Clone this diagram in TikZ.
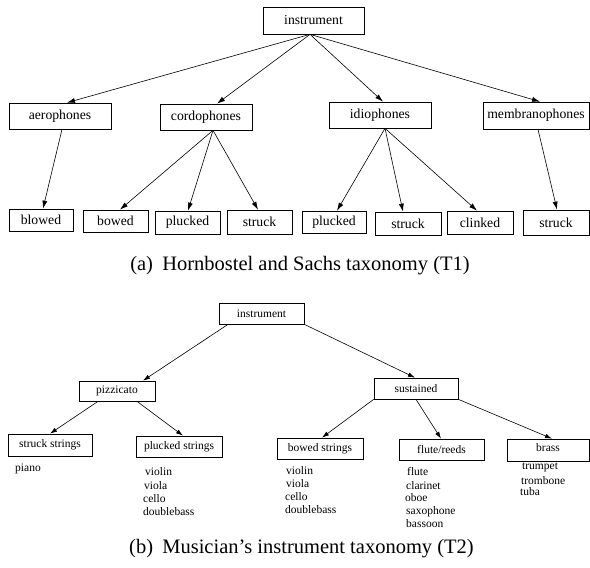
\documentclass[tikz,border=0pt]{standalone}
\usepackage{fontspec}
\setmainfont{Liberation Serif}
\usetikzlibrary{arrows.meta}
\begin{document}
\begin{tikzpicture}[x=1pt,y=-1pt,
  topbox/.style={draw,line width=0.7pt,inner sep=0pt,font=\fontsize{13.7}{15}\selectfont},
  botbox/.style={draw,line width=0.7pt,inner sep=0pt,font=\fontsize{11.5}{13}\selectfont},
  item/.style={anchor=west,inner sep=0pt,font=\fontsize{11.5}{13}\selectfont},
  captxt/.style={inner sep=0pt,font=\fontsize{20.5}{23}\selectfont},
  arr/.style={-{Latex[length=8pt,width=5pt]},line width=0.6pt},
  arrs/.style={-{Latex[length=7pt,width=4.5pt]},line width=0.6pt}]
\useasboundingbox (0,0) rectangle (590,568);
% ---- (a) ----
\node[topbox,minimum width=101pt,minimum height=27pt] (inst) at (313.5,20.5) {instrument};
\node[topbox,minimum width=102pt,minimum height=26pt] (aero) at (60,116) {aerophones};
\node[topbox,minimum width=92pt,minimum height=26pt] (cord) at (206,117) {cordophones};
\node[topbox,minimum width=102pt,minimum height=26pt] (idio) at (380,115) {idiophones};
\node[topbox,minimum width=106pt,minimum height=27pt] (memb) at (536,115.5) {membranophones};
\node[topbox,minimum width=64pt,minimum height=22pt] (blowed) at (41,220) {blowed};
\node[topbox,minimum width=65pt,minimum height=22pt] (bowed) at (115.5,221) {bowed};
\node[topbox,minimum width=65pt,minimum height=23pt] (plc) at (187.5,222.5) {plucked};
\node[topbox,minimum width=65pt,minimum height=24pt] (stc) at (259.5,222) {struck};
\node[topbox,minimum width=64pt,minimum height=22pt] (pli) at (334,222) {plucked};
\node[topbox,minimum width=66pt,minimum height=23pt] (sti) at (408,223.5) {struck};
\node[topbox,minimum width=66pt,minimum height=23pt] (clk) at (480,222.5) {clinked};
\node[topbox,minimum width=66pt,minimum height=25pt] (stm) at (556,222.5) {struck};
\draw[arr] ([xshift=-3.5pt]inst.south) -- ([xshift=7pt]aero.north);
\draw[arr] ([xshift=-3.5pt]inst.south) -- ([xshift=11pt]cord.north);
\draw[arr] ([xshift=-3.5pt]inst.south) -- ([xshift=3pt]idio.north);
\draw[arr] ([xshift=-3.5pt]inst.south) -- ([xshift=4pt]memb.north);
\draw[arr] ([xshift=2pt]aero.south) -- ([xshift=2pt]blowed.north);
\draw[arr] ([xshift=7pt]cord.south) -- ([xshift=4.5pt]bowed.north);
\draw[arr] ([xshift=7pt]cord.south) -- ([xshift=0.5pt]plc.north);
\draw[arr] ([xshift=7pt]cord.south) -- ([xshift=-1.5pt]stc.north);
\draw[arr] ([xshift=5pt]idio.south) -- ([xshift=3pt]pli.north);
\draw[arr] ([xshift=5pt]idio.south) -- ([xshift=-5pt]sti.north);
\draw[arr] ([xshift=5pt]idio.south) -- ([xshift=-3pt]clk.north);
\draw[arr] ([xshift=2pt]memb.south) -- ([xshift=1pt]stm.north);
\node[captxt] (capa) at (300,266) {(a)\hspace{0.45em}Hornbostel and Sachs taxonomy (T1)};
% ---- (b) ----
\node[botbox,minimum width=85pt,minimum height=21pt] (inst2) at (261.5,313.5) {instrument};
\node[botbox,minimum width=76pt,minimum height=20pt] (pizz) at (117,391) {pizzicato};
\node[botbox,minimum width=84pt,minimum height=21pt] (sust) at (416,388.5) {sustained};
\node[botbox,minimum width=84pt,minimum height=22pt] (ss) at (50,445) {struck strings};
\node[botbox,minimum width=86pt,minimum height=21pt] (ps) at (179,446.5) {plucked strings};
\node[botbox,minimum width=86pt,minimum height=21pt] (bs) at (320,448.5) {bowed strings};
\node[botbox,minimum width=85pt,minimum height=21pt] (fr) at (441.5,449.5) {flute/reeds};
\node[botbox,minimum width=82pt,minimum height=22pt,text depth=4pt] (brass) at (548,450) {brass};
\draw[arrs] ([xshift=-33.5pt]inst2.south) -- ([xshift=26pt]pizz.north);
\draw[arrs] (inst2.south east) -- ([xshift=-1pt]sust.north);
\draw[arrs] ([xshift=-19pt]pizz.south) -- (ss.north);
\draw[arrs] ([xshift=20pt]pizz.south) -- ([xshift=4pt]ps.north);
\draw[arrs] (sust.south west) -- ([xshift=2pt]bs.north);
\draw[arrs] (sust.south) -- ([xshift=-0.5pt]fr.north);
\draw[arrs] (sust.south east) -- ([xshift=4pt]brass.north);
\node[item] (piano) at (15,469) {piano};
\node[item] (pv1) at (145,472) {violin};
\node[item] (pv2) at (144,486) {viola};
\node[item] (pv3) at (143,499) {cello};
\node[item] (pv4) at (143,512) {doublebass};
\node[item] (bv1) at (286,471) {violin};
\node[item] (bv2) at (286,484) {viola};
\node[item] (bv3) at (285,497) {cello};
\node[item] (bv4) at (285,510) {doublebass};
\node[item] (f1) at (407,472) {flute};
\node[item] (f2) at (406,486) {clarinet};
\node[item] (f3) at (405,498) {oboe};
\node[item] (f4) at (406,512) {saxophone};
\node[item] (f5) at (406,524) {bassoon};
\node[item] (b1) at (522,467) {trumpet};
\node[item] (b2) at (521,481) {trombone};
\node[item] (b3) at (520,492) {tuba};
\node[captxt] (capb) at (301.5,549) {(b)\hspace{0.45em}Musician's instrument taxonomy (T2)};
\end{tikzpicture}
\end{document}
